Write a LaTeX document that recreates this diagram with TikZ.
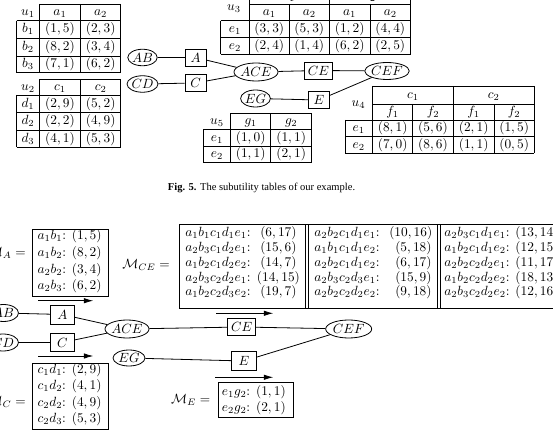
\documentclass[tikz,border=0pt]{standalone}
\usepackage{fontspec}
\newfontfamily\capfont{Liberation Serif}
\usetikzlibrary{shapes.geometric,arrows.meta}
\tikzset{
  ln/.style={line width=0.6pt},
  oval/.style={draw, ellipse, ln, inner sep=0pt},
  sep/.style={draw, rectangle, ln, inner sep=0pt},
  sz/.style 2 args={minimum width=#1*0.75pt, minimum height=#2*0.75pt},
  cell/.style={inner sep=0pt, text height=7pt, text depth=2pt},
  entry/.style={inner sep=0pt, anchor=west, text height=7pt, text depth=2pt},
  flow/.style={ln, -{Latex[length=7pt,width=4pt]}},
}
\begin{document}
\begin{tikzpicture}[x=0.75pt,y=-0.75pt]
\useasboundingbox (0,0) rectangle (553,441);
\clip (0,0) rectangle (553,441);

% ---------- subutility table u1 ----------
\draw[ln] (39.3,4) -- (120.7,4);
\foreach \y in {20.7,38.3,56,72.7} \draw[ln] (16.7,\y) -- (120.7,\y);
\draw[ln] (16.7,20.7) -- (16.7,72.7);
\foreach \x in {39.3,80.7,120.7} \draw[ln] (\x,4) -- (\x,72.7);
\node[cell] (u1-0-0) at (28,12.3) {$u_1$};
\node[cell] (u1-0-1) at (60,12.3) {$a_1$};
\node[cell] (u1-0-2) at (100.7,12.3) {$a_2$};
\node[cell] (u1-1-0) at (28,29.5) {$b_1$};
\node[cell] (u1-1-1) at (60,29.5) {$(1,5)$};
\node[cell] (u1-1-2) at (100.7,29.5) {$(2,3)$};
\node[cell] (u1-2-0) at (28,47.2) {$b_2$};
\node[cell] (u1-2-1) at (60,47.2) {$(8,2)$};
\node[cell] (u1-2-2) at (100.7,47.2) {$(3,4)$};
\node[cell] (u1-3-0) at (28,64.4) {$b_3$};
\node[cell] (u1-3-1) at (60,64.4) {$(7,1)$};
\node[cell] (u1-3-2) at (100.7,64.4) {$(6,2)$};

% ---------- subutility table u2 ----------
\draw[ln] (39.3,79.3) -- (120.7,79.3);
\foreach \y in {95,112.7,130,147.3} \draw[ln] (16.7,\y) -- (120.7,\y);
\draw[ln] (16.7,95) -- (16.7,147.3);
\foreach \x in {39.3,80.7,120.7} \draw[ln] (\x,79.3) -- (\x,147.3);
\node[cell] (u2-0-0) at (28,87.2) {$u_2$};
\node[cell] (u2-0-1) at (60,87.2) {$c_1$};
\node[cell] (u2-0-2) at (100.7,87.2) {$c_2$};
\node[cell] (u2-1-0) at (28,103.8) {$d_1$};
\node[cell] (u2-1-1) at (60,103.8) {$(2,9)$};
\node[cell] (u2-1-2) at (100.7,103.8) {$(5,2)$};
\node[cell] (u2-2-0) at (28,121.3) {$d_2$};
\node[cell] (u2-2-1) at (60,121.3) {$(2,2)$};
\node[cell] (u2-2-2) at (100.7,121.3) {$(4,9)$};
\node[cell] (u2-3-0) at (28,138.7) {$d_3$};
\node[cell] (u2-3-1) at (60,138.7) {$(4,1)$};
\node[cell] (u2-3-2) at (100.7,138.7) {$(5,3)$};

% ---------- subutility table u3 ----------
\draw[ln] (249.3,-14) -- (410.7,-14);
\draw[ln] (249.3,4) -- (410.7,4);
\foreach \y in {20.7,37.3,54} \draw[ln] (220.7,\y) -- (410.7,\y);
\draw[ln] (220.7,20.7) -- (220.7,54);
\foreach \x in {249.3,329.3,410.7} \draw[ln] (\x,-14) -- (\x,54);
\foreach \x in {289.3,370} \draw[ln] (\x,4) -- (\x,54);
\node[cell] (u3-0-0) at (234,7) {$u_3$};
\node[cell] (u3-t-1) at (289.3,-3.5) {$c_1$};
\node[cell] (u3-t-2) at (370,-3.5) {$c_2$};
\node[cell] (u3-0-1) at (269.3,12.3) {$a_1$};
\node[cell] (u3-0-2) at (309.3,12.3) {$a_2$};
\node[cell] (u3-0-3) at (349.7,12.3) {$a_1$};
\node[cell] (u3-0-4) at (390.3,12.3) {$a_2$};
\node[cell] (u3-1-0) at (235,29) {$e_1$};
\node[cell] (u3-1-1) at (269.3,29) {$(3,3)$};
\node[cell] (u3-1-2) at (309.3,29) {$(5,3)$};
\node[cell] (u3-1-3) at (349.7,29) {$(1,2)$};
\node[cell] (u3-1-4) at (390.3,29) {$(4,4)$};
\node[cell] (u3-2-0) at (235,45.7) {$e_2$};
\node[cell] (u3-2-1) at (269.3,45.7) {$(2,4)$};
\node[cell] (u3-2-2) at (309.3,45.7) {$(1,4)$};
\node[cell] (u3-2-3) at (349.7,45.7) {$(6,2)$};
\node[cell] (u3-2-4) at (390.3,45.7) {$(2,5)$};

% ---------- subutility table u4 ----------
\draw[ln] (372.7,86) -- (534.3,86);
\draw[ln] (372.7,104) -- (534.3,104);
\foreach \y in {120,136.7,153.3} \draw[ln] (345,\y) -- (534.3,\y);
\draw[ln] (345,120) -- (345,153.3);
\foreach \x in {372.7,453.3,534.3} \draw[ln] (\x,86) -- (\x,153.3);
\foreach \x in {412.7,494} \draw[ln] (\x,104) -- (\x,153.3);
\node[cell] (u4-0-0) at (358.5,103) {$u_4$};
\node[cell] (u4-t-1) at (413,95) {$c_1$};
\node[cell] (u4-t-2) at (493.8,95) {$c_2$};
\node[cell] (u4-0-1) at (392.7,112) {$f_1$};
\node[cell] (u4-0-2) at (433,112) {$f_2$};
\node[cell] (u4-0-3) at (473.7,112) {$f_1$};
\node[cell] (u4-0-4) at (514.2,112) {$f_2$};
\node[cell] (u4-1-0) at (358.8,128.3) {$e_1$};
\node[cell] (u4-1-1) at (392.7,128.3) {$(8,1)$};
\node[cell] (u4-1-2) at (433,128.3) {$(5,6)$};
\node[cell] (u4-1-3) at (473.7,128.3) {$(2,1)$};
\node[cell] (u4-1-4) at (514.2,128.3) {$(1,5)$};
\node[cell] (u4-2-0) at (358.8,145) {$e_2$};
\node[cell] (u4-2-1) at (392.7,145) {$(7,0)$};
\node[cell] (u4-2-2) at (433,145) {$(8,6)$};
\node[cell] (u4-2-3) at (473.7,145) {$(1,1)$};
\node[cell] (u4-2-4) at (514.2,145) {$(0,5)$};

% ---------- subutility table u5 ----------
\draw[ln] (230.7,113.3) -- (311.7,113.3);
\foreach \y in {129.3,146,162.7} \draw[ln] (203.3,\y) -- (311.7,\y);
\draw[ln] (203.3,129.3) -- (203.3,162.7);
\foreach \x in {230.7,270.7,311.7} \draw[ln] (\x,113.3) -- (\x,162.7);
\node[cell] (u5-0-0) at (217,121.3) {$u_5$};
\node[cell] (u5-0-1) at (250.7,121.3) {$g_1$};
\node[cell] (u5-0-2) at (291.2,121.3) {$g_2$};
\node[cell] (u5-1-0) at (217,137.7) {$e_1$};
\node[cell] (u5-1-1) at (250.7,137.7) {$(1,0)$};
\node[cell] (u5-1-2) at (291.2,137.7) {$(1,1)$};
\node[cell] (u5-2-0) at (217,154.3) {$e_2$};
\node[cell] (u5-2-1) at (250.7,154.3) {$(1,1)$};
\node[cell] (u5-2-2) at (291.2,154.3) {$(2,1)$};

% ---------- junction graph, upper copy ----------
\node[oval, sz={28.5}{16.5}] (ab) at (142.5,57.5) {$AB$};
\node[oval, sz={28.5}{16.5}] (cd) at (142.5,84) {$CD$};
\node[sep, sz={21}{17}] (a) at (195.5,57.5) {$A$};
\node[sep, sz={21}{17}] (c) at (195.5,83) {$C$};
\node[oval, sz={43}{18}] (ace) at (256,72) {$ACE$};
\node[sep, sz={28}{17}] (ce) at (318.5,70.5) {$CE$};
\node[oval, sz={43}{17}] (cef) at (387,71) {$CEF$};
\node[oval, sz={29}{17}] (eg) at (255.5,98.5) {$EG$};
\node[sep, sz={21}{17}] (e) at (319,100) {$E$};
\draw[ln] (ab) -- (a);
\draw[ln] (cd) -- (c);
\draw[ln] (a) -- (ace);
\draw[ln] (c) -- (ace);
\draw[ln] (ace) -- (ce) -- (cef);
\draw[ln] (cef) -- (e);
\draw[ln] (eg) -- (e);

% ---------- caption ----------
\node (cap) at (261.5,187.5) {\capfont\fontsize{7.9}{9}\selectfont\textbf{Fig. 5.} The subutility tables of our example.};

% ---------- junction graph with messages ----------
\node[oval, sz={30}{17}] (ab2) at (3.5,313) {$AB$};
\node[oval, sz={30}{17}] (cd2) at (3,342.5) {$CD$};
\node[sep, sz={23.3}{19}] (a2) at (62.3,314.5) {$A$};
\node[sep, sz={23.3}{18.4}] (c2) at (62.3,342.5) {$C$};
\node[oval, sz={42}{18}] (ace2) at (127,329) {$ACE$};
\node[sep, sz={28}{17}] (ce2) at (241.7,327) {$CE$};
\node[oval, sz={46}{18}] (cef2) at (348.7,329) {$CEF$};
\node[oval, sz={32}{16}] (eg2) at (129,358) {$EG$};
\node[sep, sz={24.3}{19.4}] (e2) at (244,361) {$E$};
\draw[ln] (ab2) -- (a2);
\draw[ln] (cd2) -- (c2);
\draw[ln] (a2) -- (ace2);
\draw[ln] (c2) -- (ace2);
\draw[ln] (ace2) -- (ce2) -- (cef2);
\draw[ln] (cef2) -- (e2);
\draw[ln] (eg2) -- (e2);

% message direction arrows
\coordinate (fa0) at (38.3,300.7);  \coordinate (fa1) at (93.3,300.7);
\coordinate (fc0) at (38.3,356);    \coordinate (fc1) at (93.3,356);
\coordinate (fce0) at (216,313.3);  \coordinate (fce1) at (273.3,313.3);
\coordinate (fe0) at (215,377.3);   \coordinate (fe1) at (273.3,377.3);
\draw[flow] (fa0) -- (fa1);
\draw[flow] (fc0) -- (fc1);
\draw[flow] (fce0) -- (fce1);
\draw[flow] (fe0) -- (fe1);

% message M_A
\node[anchor=east, inner sep=0pt] (lma) at (26,253) {$\mathcal{M}_A =$};
\node[sep, anchor=north west, sz={76}{66.7}] (ma) at (32.3,229.3) {};
\node[entry] (ma1) at (37.3,236) {$a_1b_1$: $(1,5)$};
\node[entry] (ma2) at (37.3,253) {$a_1b_2$: $(8,2)$};
\node[entry] (ma3) at (37.3,269.7) {$a_2b_2$: $(3,4)$};
\node[entry] (ma4) at (37.3,286.3) {$a_2b_3$: $(6,2)$};

% message M_C
\node[anchor=east, inner sep=0pt] (lmc) at (26,401.7) {$\mathcal{M}_C =$};
\node[sep, anchor=north west, sz={76}{66}] (mc) at (32.3,363.3) {};
\node[entry] (mc1) at (37.3,370) {$c_1d_1$: $(2,9)$};
\node[entry] (mc2) at (37.3,386.3) {$c_1d_2$: $(4,1)$};
\node[entry] (mc3) at (37.3,402.7) {$c_2d_2$: $(4,9)$};
\node[entry] (mc4) at (37.3,419.3) {$c_2d_3$: $(5,3)$};

% message M_E
\node[anchor=east, inner sep=0pt] (lme) at (210.5,399.5) {$\mathcal{M}_E =$};
\node[sep, anchor=north west, sz={74.4}{34.4}] (me) at (218.3,382.3) {};
\node[entry] (me1) at (221.7,391.7) {$e_1g_2$: $(1,1)$};
\node[entry] (me2) at (221.7,408.3) {$e_2g_2$: $(2,1)$};

% message M_CE, three columns
\node[anchor=east, inner sep=0pt] (lmce) at (170,265) {$\mathcal{M}_{CE} =$};
\draw[ln] (560,224.5) -- (179.3,224.5) -- (179.3,308) -- (560,308);
\foreach \x in {305.5,308.7,437.5,440.5} \draw[ln] (\x,224.5) -- (\x,308);
\node[entry] (k11) at (185,233.5) {$a_1b_1c_1d_1e_1$:};
\node[entry] (k12) at (185,248.5) {$a_2b_3c_1d_2e_1$:};
\node[entry] (k13) at (185,263.2) {$a_1b_2c_1d_2e_2$:};
\node[entry] (k14) at (185,278) {$a_2b_3c_2d_2e_1$:};
\node[entry] (k15) at (185,292) {$a_1b_2c_2d_3e_2$:};
\node[entry] (v11) at (260,233.5) {$(6,17)$};
\node[entry] (v12) at (260,248.5) {$(15,6)$};
\node[entry] (v13) at (260,263.2) {$(14,7)$};
\node[entry] (v14) at (256.7,278) {$(14,15)$};
\node[entry] (v15) at (260,292) {$(19,7)$};
\node[entry] (k21) at (314,233.5) {$a_2b_2c_1d_1e_1$:};
\node[entry] (k22) at (314,248.5) {$a_1b_1c_1d_1e_2$:};
\node[entry] (k23) at (314,263.2) {$a_2b_2c_1d_1e_2$:};
\node[entry] (k24) at (314,278) {$a_2b_3c_2d_3e_1$:};
\node[entry] (k25) at (314,292) {$a_2b_2c_2d_2e_2$:};
\node[entry] (v21) at (389,233.5) {$(10,16)$};
\node[entry] (v22) at (395,248.5) {$(5,18)$};
\node[entry] (v23) at (395,263.2) {$(6,17)$};
\node[entry] (v24) at (395,278) {$(15,9)$};
\node[entry] (v25) at (395,292) {$(9,18)$};
\node[entry] (k31) at (444,233.5) {$a_2b_3c_1d_1e_1$: $(13,14)$};
\node[entry] (k32) at (444,248.5) {$a_1b_2c_1d_1e_2$: $(12,15)$};
\node[entry] (k33) at (444,263.2) {$a_2b_2c_2d_2e_1$: $(11,17)$};
\node[entry] (k34) at (444,278) {$a_1b_2c_2d_2e_2$: $(18,13)$};
\node[entry] (k35) at (444,292) {$a_2b_3c_2d_2e_2$: $(12,16)$};
\end{tikzpicture}
\end{document}
